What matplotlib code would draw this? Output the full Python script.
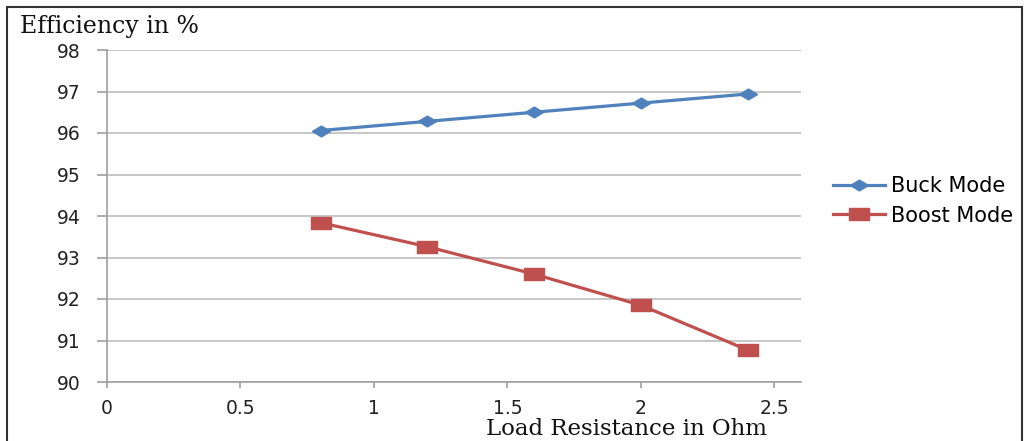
import numpy as np
import matplotlib
matplotlib.use('Agg')
import matplotlib.pyplot as plt
from matplotlib.path import Path
from matplotlib.patches import Rectangle

# Datos
load_resistance = [0.8, 1.2, 1.6, 2.0, 2.4]
buck_eff = [96.06, 96.28, 96.50, 96.72, 96.94]
boost_eff = [93.84, 93.26, 92.60, 91.85, 90.77]
x_ticks = [0, 0.5, 1, 1.5, 2, 2.5]
x_tick_labels = ['0', '0.5', '1', '1.5', '2', '2.5']
y_ticks = [90, 91, 92, 93, 94, 95, 96, 97, 98]

# Marcadores estirados (como en la imagen original)
diamante = Path([(-1, 0), (0, 0.6), (1, 0), (0, -0.6), (-1, 0)],
                [Path.MOVETO, Path.LINETO, Path.LINETO, Path.LINETO, Path.CLOSEPOLY])
rectangulo = Path([(-1, -0.6), (1, -0.6), (1, 0.6), (-1, 0.6), (-1, -0.6)],
                  [Path.MOVETO, Path.LINETO, Path.LINETO, Path.LINETO, Path.CLOSEPOLY])

azul = '#4F81BD'
rojo = '#C0504D'

fig = plt.figure(figsize=(10.29, 4.41), dpi=100)
ax = fig.add_axes([107 / 1029, 1 - 382 / 441, (801 - 107) / 1029, (382 - 50) / 441])

ax.plot(load_resistance, buck_eff, color=azul, lw=2.3, marker=diamante, ms=13,
        mec=azul, mfc=azul, label='Buck Mode')
ax.plot(load_resistance, boost_eff, color=rojo, lw=2.3, marker=rectangulo, ms=15,
        mec=rojo, mfc=rojo, label='Boost Mode')

ax.set_xlim(0, 2.6)
ax.set_ylim(90, 98)
ax.set_xticks(x_ticks)
ax.set_xticklabels(x_tick_labels)
ax.set_yticks(y_ticks)
ax.grid(axis='y', color='#BEBEBE', lw=1.2)
ax.set_axisbelow(True)

for lado in ['top', 'right']:
    ax.spines[lado].set_visible(False)
for lado in ['left', 'bottom']:
    ax.spines[lado].set_color('#A0A0A0')
    ax.spines[lado].set_linewidth(1.2)

ax.tick_params(axis='y', length=7, width=1.2, color='#A0A0A0', pad=12,
               labelsize=13.5, labelcolor='#222222')
ax.tick_params(axis='x', length=4, width=1.2, color='#A0A0A0', pad=8,
               labelsize=13.5, labelcolor='#222222')

fig.text(20 / 1029, 1 - 27 / 441, 'Efficiency in %', family='DejaVu Serif',
         fontsize=17, va='center', ha='left', color='#111111')
fig.text(627 / 1029, 1 - 429 / 441, 'Load Resistance in Ohm', family='DejaVu Serif',
         fontsize=16.5, va='center', ha='center', color='#111111')

leg = fig.legend(loc='center left', bbox_to_anchor=(814 / 1029, 1 - 201 / 441),
                 frameon=False, prop={'family': 'DejaVu Sans', 'size': 15},
                 handlelength=2.5, handletextpad=0.3, labelspacing=0.45)

# Marco exterior del grafico
fig.patches.append(Rectangle((7 / 1029, -0.05), (1022 - 7) / 1029, 1 - 7 / 441 + 0.05,
                             transform=fig.transFigure, fill=False,
                             edgecolor='#333333', lw=1.5))

fig.savefig('out.png', dpi=100)
